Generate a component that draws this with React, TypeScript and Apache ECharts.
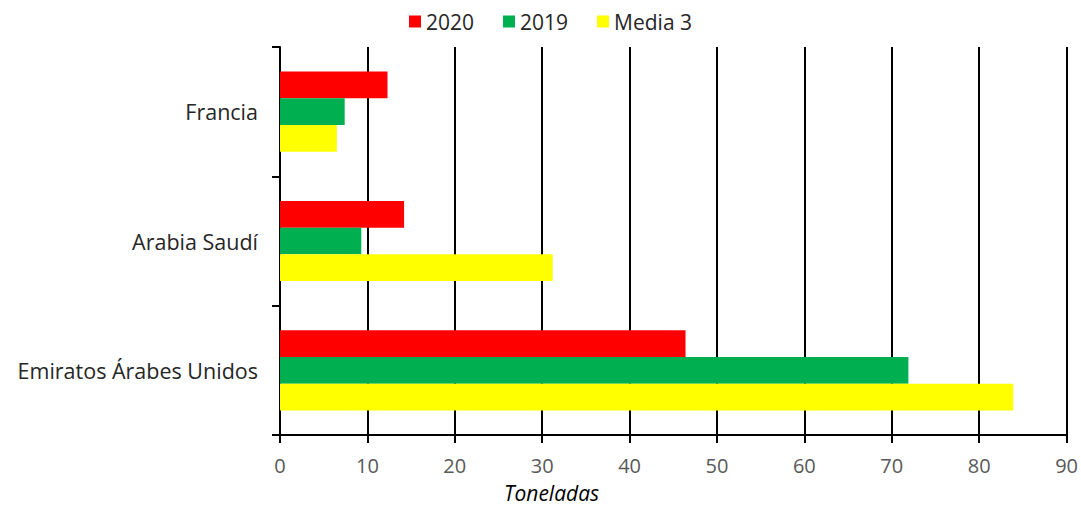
import React, { useEffect, useRef } from "react";
import * as echarts from "echarts";

const categories = ["Emiratos Árabes Unidos", "Arabia Saudí", "Francia"];
const seriesNames = ["2020", "2019", "Media 3"];
const values2020 = [46.4, 14.2, 12.3];
const values2019 = [71.9, 9.3, 7.4];
const valuesMedia = [83.9, 31.2, 6.5];
const colors = ["#FF0000", "#00B050", "#FFFF00"];
const xTicks = [0, 10, 20, 30, 40, 50, 60, 70, 80, 90];
const xAxisTitle = "Toneladas";

export default function App() {
  const ref = useRef<HTMLDivElement>(null);
  useEffect(() => {
    if (!ref.current) return;
    const chart = echarts.init(ref.current, undefined, { renderer: "svg" });
    const font = "'Open Sans', 'Noto Sans', sans-serif";
    const data = [values2020, values2019, valuesMedia];
    chart.setOption({
      animation: false,
      textStyle: { fontFamily: font },
      legend: {
        top: 6,
        left: 404,
        itemWidth: 12,
        itemHeight: 12,
        itemGap: 29,
        icon: "rect",
        textStyle: { fontSize: 21, color: "#262626", fontFamily: font },
        data: seriesNames,
      },
      graphic: [
        {
          type: "text",
          left: 504,
          top: 482,
          style: {
            text: xAxisTitle,
            font: `italic 21px ${font}`,
            fill: "#000",
          },
        },
      ],
      grid: { left: 280, right: 14, top: 47, bottom: 70, containLabel: false },
      xAxis: {
        type: "value",
        min: xTicks[0],
        max: xTicks[xTicks.length - 1],
        interval: 10,
        axisLine: { show: true, lineStyle: { color: "#000", width: 2 } },
        axisTick: { show: true, length: 8, lineStyle: { color: "#000", width: 2 } },
        axisLabel: { fontSize: 20, color: "#595959", margin: 20, fontFamily: font },
        splitLine: { show: true, lineStyle: { color: "#000", width: 2 } },
      },
      yAxis: {
        type: "category",
        data: categories,
        axisLine: { show: true, lineStyle: { color: "#000", width: 2 } },
        axisTick: { show: true, length: 8, alignWithLabel: false, lineStyle: { color: "#000", width: 2 } },
        axisLabel: { fontSize: 21.5, color: "#262626", margin: 22, fontFamily: font },
        splitLine: { show: false },
      },
      series: [0, 1, 2].map((i) => ({
        name: seriesNames[i],
        type: "bar",
        data: data[i],
        itemStyle: { color: colors[i] },
        barGap: "0%",
        barCategoryGap: "38%",
      })),
    });
    return () => chart.dispose();
  }, []);
  return (
    <div
      ref={ref}
      style={{ position: "absolute", left: 0, top: 0, width: 1081, height: 505 }}
    />
  );
}
